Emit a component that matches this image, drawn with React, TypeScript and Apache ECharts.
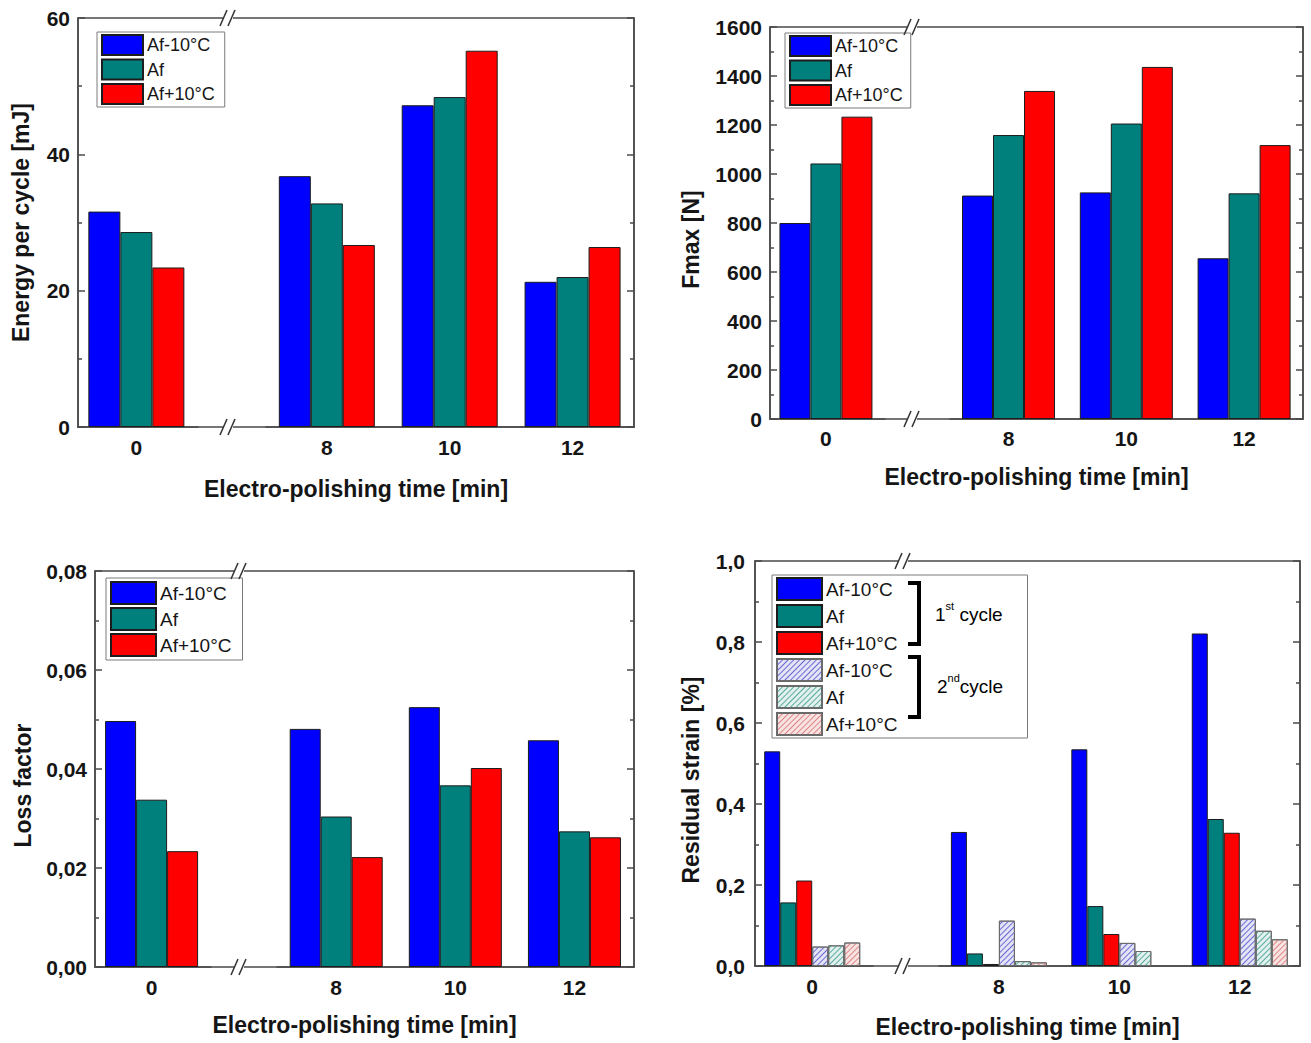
import React, { useEffect, useRef } from 'react';
import * as echarts from 'echarts';

const FONT = '"Liberation Sans", Arial, Helvetica, sans-serif';

// ---- data ----
const timeMin = [0, 8, 10, 12];
const xTickValues = [0, 8, 10, 12];
const tempNames = ['Af-10°C', 'Af', 'Af+10°C'];
const SECOND = ' (2nd cycle)';

const energyAfm10 = [31.6, 36.8, 47.2, 21.3];
const energyAf = [28.6, 32.8, 48.4, 22.0];
const energyAfp10 = [23.4, 26.7, 55.2, 26.4];

const fmaxAfm10 = [800, 912, 925, 656];
const fmaxAf = [1043, 1159, 1206, 921];
const fmaxAfp10 = [1234, 1339, 1437, 1118];

const lossAfm10 = [0.0497, 0.0481, 0.0525, 0.0458];
const lossAf = [0.0338, 0.0304, 0.0367, 0.0274];
const lossAfp10 = [0.0234, 0.0222, 0.0402, 0.0262];

const strain1Afm10 = [0.53, 0.331, 0.535, 0.821];
const strain1Af = [0.157, 0.031, 0.148, 0.363];
const strain1Afp10 = [0.211, 0.005, 0.079, 0.329];
const strain2Afm10 = [0.048, 0.112, 0.057, 0.117];
const strain2Af = [0.051, 0.012, 0.037, 0.087];
const strain2Afp10 = [0.058, 0.009, null, 0.066];

const COLORS = ['#0000ff', '#00807c', '#ff0000'];
const HATCH_FILL = ['#e4e4f6', '#e2f1ee', '#f8e3e3'];
const HATCH_LINE = ['#6a6ad6', '#5aaba2', '#e08585'];

type PanelDef = {
  grid: { left: number; top: number; width: number; height: number };
  yMax: number;
  yInterval: number;
  yName: string;
  yFmt: (v: number) => string;
  yNameGap: number;
  yNameShift: number;
  yLabelMargin: number;
  xNameGap: number;
  xLabelMargin: number;
  barWidth: number;
  first: (number | null)[][];
  second?: (number | null)[][];
  breakX: number;
};

const panels: PanelDef[] = [
  {
    grid: { left: 78, top: 18, width: 556, height: 409 },
    yMax: 60, yInterval: 20, yName: 'Energy per cycle [mJ]',
    yFmt: (v) => String(v), yNameGap: 46, yNameShift: 0, yLabelMargin: 8,
    xNameGap: 50, xLabelMargin: 10, barWidth: 32,
    first: [energyAfm10, energyAf, energyAfp10], breakX: 229,
  },
  {
    grid: { left: 770, top: 27, width: 533, height: 392 },
    yMax: 1600, yInterval: 200, yName: 'Fmax [N]',
    yFmt: (v) => String(v), yNameGap: 68, yNameShift: 33, yLabelMargin: 8,
    xNameGap: 46, xLabelMargin: 9, barWidth: 31,
    first: [fmaxAfm10, fmaxAf, fmaxAfp10], breakX: 913,
  },
  {
    grid: { left: 95, top: 571, width: 539, height: 396 },
    yMax: 0.08, yInterval: 0.02, yName: 'Loss factor',
    yFmt: (v) => v.toFixed(2).replace('.', ','), yNameGap: 61, yNameShift: 33, yLabelMargin: 8,
    xNameGap: 46, xLabelMargin: 10, barWidth: 31,
    first: [lossAfm10, lossAf, lossAfp10], breakX: 240,
  },
  {
    grid: { left: 755, top: 561, width: 545, height: 405 },
    yMax: 1.0, yInterval: 0.2, yName: 'Residual strain [%]',
    yFmt: (v) => v.toFixed(1).replace('.', ','), yNameGap: 53, yNameShift: 33, yLabelMargin: 10,
    xNameGap: 49, xLabelMargin: 10, barWidth: 16,
    first: [strain1Afm10, strain1Af, strain1Afp10],
    second: [strain2Afm10, strain2Af, strain2Afp10], breakX: 904,
  },
];

const legendDefs = [
  { left: 97, top: 32, itemWidth: 41, itemHeight: 20, itemGap: 2.5, fontSize: 18, padding: [2, 10, 2, 4], second: false },
  { left: 785, top: 33, itemWidth: 41, itemHeight: 20, itemGap: 2.5, fontSize: 18, padding: [2, 8, 2, 4], second: false },
  { left: 106, top: 578, itemWidth: 45, itemHeight: 22, itemGap: 2, fontSize: 19, padding: [3, 11, 3, 4], second: false },
  { left: 772, top: 575, itemWidth: 45, itemHeight: 22, itemGap: 3, fontSize: 19, padding: [2, 130, 2, 4], second: true },
];

const AXIS_COLOR = '#4a4a4a';
const TEXT_COLOR = '#151515';

function buildOption() {
  const grid: any[] = [];
  const xAxis: any[] = [];
  const yAxis: any[] = [];
  const series: any[] = [];
  const graphic: any[] = [];

  panels.forEach((p, i) => {
    grid.push({
      ...p.grid,
      show: true,
      borderColor: AXIS_COLOR,
      borderWidth: 1.5,
      backgroundColor: 'transparent',
      containLabel: false,
      outerBoundsMode: 'none',
    });
    xAxis.push({
      type: 'value',
      gridIndex: i,
      min: -0.95,
      max: 13,
      breaks: [{ start: 1, end: 7, gap: 1.1 }],
      breakArea: { show: false },
      axisLine: { show: true, onZero: false, lineStyle: { color: AXIS_COLOR, width: 1.5 } },
      axisTick: { show: false },
      splitLine: { show: false },
      axisLabel: {
        customValues: xTickValues,
        fontSize: 21,
        fontWeight: 'bold',
        fontFamily: FONT,
        color: TEXT_COLOR,
        margin: p.xLabelMargin,
      },
      name: 'Electro-polishing time [min]',
      nameLocation: 'middle',
      nameGap: p.xNameGap,
      nameTextStyle: { fontSize: 23, fontWeight: 'bold', fontFamily: FONT, color: TEXT_COLOR },
    });
    const yCommon = {
      type: 'value',
      gridIndex: i,
      min: 0,
      max: p.yMax,
      interval: p.yInterval,
      axisLine: { show: true, onZero: false, lineStyle: { color: AXIS_COLOR, width: 1.5 } },
      axisTick: { show: true, inside: true, length: 7, lineStyle: { color: AXIS_COLOR, width: 1.5 } },
      minorTick: { show: true, splitNumber: 2, length: 4, lineStyle: { color: AXIS_COLOR, width: 1.5 } },
      splitLine: { show: false },
      minorSplitLine: { show: false },
    };
    yAxis.push({
      ...yCommon,
      position: 'left',
      axisLabel: {
        formatter: p.yFmt,
        fontSize: 21,
        fontWeight: 'bold',
        fontFamily: FONT,
        color: TEXT_COLOR,
        margin: p.yLabelMargin,
      },
      name: p.yName,
      nameLocation: 'middle',
      nameRotate: 90,
      nameGap: p.yNameGap,
      nameTextStyle: {
        fontSize: 23,
        fontWeight: 'bold',
        fontFamily: FONT,
        color: TEXT_COLOR,
        padding: [0, p.yNameShift, 0, 0],
      },
    });
    yAxis.push({
      ...yCommon,
      position: 'right',
      axisLabel: { show: false },
    });

    p.first.forEach((vals, k) => {
      series.push({
        type: 'bar',
        name: tempNames[k],
        xAxisIndex: i,
        yAxisIndex: 2 * i,
        barWidth: p.barWidth,
        barGap: '0%',
        data: timeMin.map((t, j) => [t, vals[j] == null ? '-' : vals[j]]),
        itemStyle: { color: COLORS[k], borderColor: '#1c1c1c', borderWidth: 1 },
      });
    });
    (p.second || []).forEach((vals, k) => {
      series.push({
        type: 'bar',
        name: tempNames[k] + SECOND,
        xAxisIndex: i,
        yAxisIndex: 2 * i,
        barWidth: p.barWidth,
        barGap: '0%',
        data: timeMin.map((t, j) => [t, vals[j] == null ? '-' : vals[j]]),
        itemStyle: {
          color: HATCH_FILL[k],
          borderColor: '#6a6a6a',
          borderWidth: 1,
          decal: {
            symbol: 'rect',
            symbolSize: 1,
            dashArrayX: [1, 0],
            dashArrayY: [1, 3],
            rotation: -Math.PI / 4,
            color: HATCH_LINE[k],
          },
        },
      });
    });

    // axis break marks "//" on bottom and top edges
    const yTop = p.grid.top;
    const yBot = p.grid.top + p.grid.height;
    [yTop, yBot].forEach((y) => {
      const bx = p.breakX;
      graphic.push({
        type: 'rect',
        z: 100,
        shape: { x: bx - 5, y: y - 3, width: 9, height: 6 },
        style: { fill: '#ffffff' },
      });
      graphic.push({
        type: 'line',
        z: 101,
        shape: { x1: bx - 9, y1: y + 8, x2: bx - 2, y2: y - 8 },
        style: { stroke: '#333', lineWidth: 1.5 },
      });
      graphic.push({
        type: 'line',
        z: 101,
        shape: { x1: bx - 1, y1: y + 8, x2: bx + 6, y2: y - 8 },
        style: { stroke: '#333', lineWidth: 1.5 },
      });
    });
  });

  // brackets and cycle labels in the residual strain legend
  graphic.push({
    type: 'polyline',
    z: 110,
    shape: { points: [[908, 583], [919, 583], [919, 644], [908, 644]] },
    style: { stroke: '#000', lineWidth: 4, fill: null },
  });
  graphic.push({
    type: 'polyline',
    z: 110,
    shape: { points: [[908, 657], [919, 657], [919, 717], [908, 717]] },
    style: { stroke: '#000', lineWidth: 4, fill: null },
  });
  const rich = {
    n: { fontSize: 19, fontFamily: FONT, color: TEXT_COLOR, lineHeight: 23, verticalAlign: 'bottom' },
    sup: { fontSize: 11, fontFamily: FONT, color: TEXT_COLOR, lineHeight: 11, verticalAlign: 'top' },
  };
  graphic.push({
    type: 'text',
    z: 110,
    x: 935,
    y: 612,
    style: { text: '{n|1}{sup|st}{n| cycle}', rich, verticalAlign: 'middle', align: 'left' },
  });
  graphic.push({
    type: 'text',
    z: 110,
    x: 937,
    y: 684,
    style: { text: '{n|2}{sup|nd}{n|cycle}', rich, verticalAlign: 'middle', align: 'left' },
  });

  const legend = legendDefs.map((l) => ({
    show: true,
    orient: 'vertical',
    left: l.left,
    top: l.top,
    itemWidth: l.itemWidth,
    itemHeight: l.itemHeight,
    itemGap: l.itemGap,
    padding: l.padding,
    borderColor: '#7a7a7a',
    borderWidth: 1,
    backgroundColor: '#ffffff',
    icon: 'rect',
    selectedMode: false,
    data: l.second ? [...tempNames, ...tempNames.map((n) => n + SECOND)] : tempNames,
    formatter: (name: string) => name.replace(SECOND, ''),
    textStyle: { fontSize: l.fontSize, fontFamily: FONT, color: TEXT_COLOR, padding: [0, 0, 0, -1] },
  }));

  return {
    animation: false,
    backgroundColor: '#ffffff',
    textStyle: { fontFamily: FONT },
    grid,
    xAxis,
    yAxis,
    series,
    legend,
    graphic,
  };
}

export default function App() {
  const ref = useRef<HTMLDivElement>(null);
  useEffect(() => {
    if (!ref.current) return;
    const chart = echarts.init(ref.current, undefined, { renderer: 'svg', width: 1311, height: 1043 });
    chart.setOption(buildOption() as any);
    return () => chart.dispose();
  }, []);
  return (
    <div
      ref={ref}
      style={{ position: 'absolute', left: 0, top: 0, width: 1311, height: 1043, background: '#fff' }}
    />
  );
}
